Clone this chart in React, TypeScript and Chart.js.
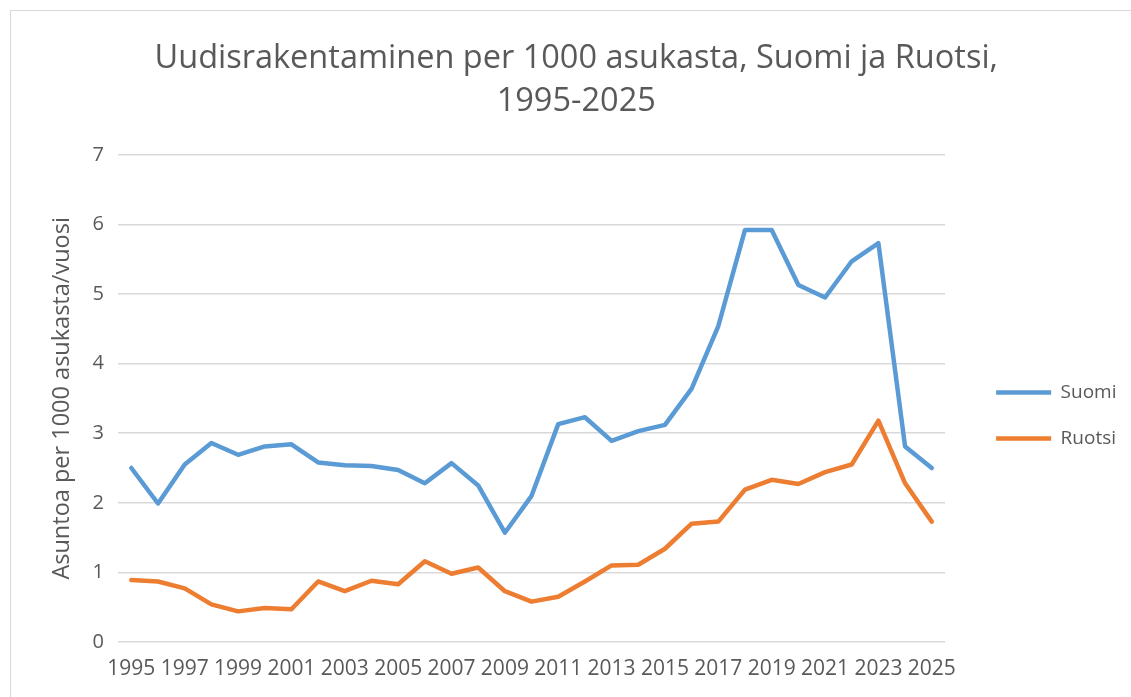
import React, { useEffect, useRef } from "react";
import { Chart, registerables } from "chart.js";

Chart.register(...registerables);

const years = [
  "1995", "1996", "1997", "1998", "1999", "2000", "2001", "2002", "2003", "2004",
  "2005", "2006", "2007", "2008", "2009", "2010", "2011", "2012", "2013", "2014",
  "2015", "2016", "2017", "2018", "2019", "2020", "2021", "2022", "2023", "2024", "2025",
];

const suomi = [
  2.5, 1.99, 2.55, 2.86, 2.69, 2.81, 2.84, 2.58, 2.54, 2.53,
  2.47, 2.28, 2.57, 2.25, 1.57, 2.1, 3.13, 3.23, 2.89, 3.03,
  3.12, 3.64, 4.54, 5.92, 5.92, 5.13, 4.95, 5.47, 5.73, 2.81, 2.5,
];

const ruotsi = [
  0.89, 0.87, 0.77, 0.54, 0.44, 0.49, 0.47, 0.87, 0.73, 0.88,
  0.83, 1.16, 0.98, 1.07, 0.73, 0.58, 0.65, 0.87, 1.1, 1.11,
  1.34, 1.7, 1.73, 2.19, 2.33, 2.27, 2.44, 2.55, 3.18, 2.28, 1.73,
];

const titleLines = ["Uudisrakentaminen per 1000 asukasta, Suomi ja Ruotsi,", "1995-2025"];
const yAxisTitle = "Asuntoa per 1000 asukasta/vuosi";

const FONT = '"Open Sans", "DejaVu Sans", sans-serif';
const TEXT = "#595959";

export default function App() {
  const ref = useRef<HTMLCanvasElement | null>(null);

  useEffect(() => {
    if (!ref.current) return;
    const chart = new Chart(ref.current, {
      type: "line",
      data: {
        labels: years,
        datasets: [
          {
            label: "Suomi",
            data: suomi,
            borderColor: "#5B9BD5",
            backgroundColor: "#5B9BD5",
            borderWidth: 4.5,
            pointRadius: 0,
            borderJoinStyle: "round",
            borderCapStyle: "round",
            tension: 0,
          },
          {
            label: "Ruotsi",
            data: ruotsi,
            borderColor: "#ED7D31",
            backgroundColor: "#ED7D31",
            borderWidth: 4.5,
            pointRadius: 0,
            borderJoinStyle: "round",
            borderCapStyle: "round",
            tension: 0,
          },
        ],
      },
      options: {
        animation: false,
        responsive: false,
        maintainAspectRatio: false,
        layout: { padding: { top: 10, left: 26, right: 4.5, bottom: 10 } },
        plugins: {
          tooltip: { enabled: false },
          title: {
            display: true,
            text: titleLines,
            color: TEXT,
            font: { family: FONT, size: 32.5, weight: "normal", lineHeight: 1.32 },
            padding: { top: 27, bottom: 32 },
          },
          legend: {
            position: "right",
            title: {
              display: true,
              text: "",
              font: { family: FONT, size: 10, lineHeight: 1 },
              padding: { top: 124, bottom: 0 },
            },
            labels: {
              color: TEXT,
              font: { family: FONT, size: 19 },
              usePointStyle: true,
              pointStyle: "line",
              pointStyleWidth: 55,
              padding: 27,
            },
          },
        },
        scales: {
          x: {
            offset: true,
            grid: { display: false, drawTicks: false },
            border: { display: false },
            ticks: {
              color: TEXT,
              font: { family: FONT, size: 21 },
              autoSkip: false,
              maxRotation: 0,
              minRotation: 0,
              padding: 14,
              callback: (_v: any, i: number) => (i % 2 === 0 ? years[i] : ""),
            },
            afterFit: (s: any) => {
              s.height = 45;
            },
          },
          y: {
            min: 0,
            max: 7,
            ticks: {
              stepSize: 1,
              color: TEXT,
              font: { family: FONT, size: 20 },
              padding: 14,
            },
            grid: { color: "#d9d9d9", lineWidth: 1.5, drawTicks: false },
            border: { display: false },
            title: {
              display: true,
              text: yAxisTitle,
              color: TEXT,
              font: { family: FONT, size: 23.5 },
              padding: { top: 22, bottom: 0 },
            },
            afterFit: (s: any) => {
              s.width = 92;
            },
          },
          gap: {
            type: "linear",
            position: "right",
            display: true,
            min: 0,
            max: 7,
            grid: { display: false, drawTicks: false },
            border: { display: false },
            ticks: { display: false },
            afterFit: (s: any) => {
              s.width = 24;
            },
          },
        },
      },
    });
    return () => chart.destroy();
  }, []);

  return (
    <div style={{ position: "fixed", left: 0, top: 0, width: 1131, height: 697, background: "#fff" }}>
      <div
        style={{
          position: "absolute",
          left: 10,
          top: 10,
          width: 1140,
          height: 700,
          border: "1px solid #d9d9d9",
          boxSizing: "border-box",
        }}
      />
      <canvas ref={ref} width={1131} height={697} style={{ position: "absolute", left: 0, top: 0 }} />
    </div>
  );
}
